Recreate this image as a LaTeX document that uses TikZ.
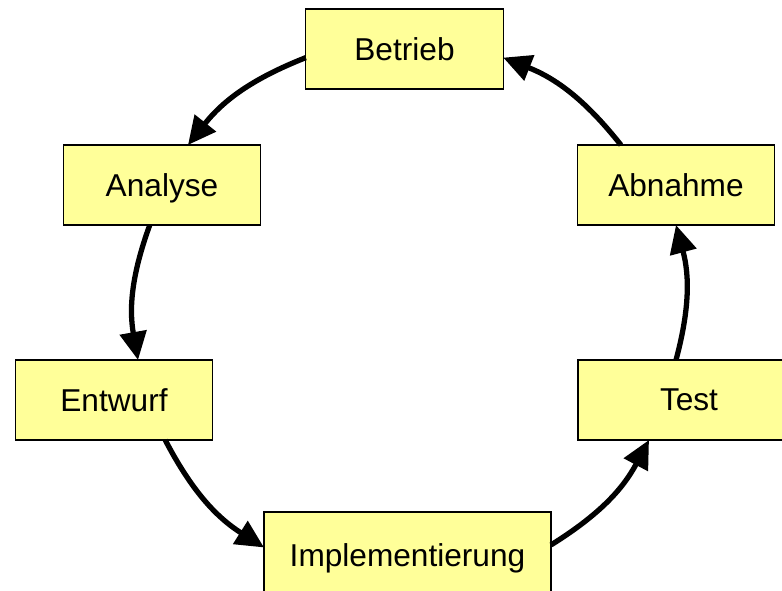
\documentclass[tikz,border=0pt]{standalone}
\usepackage{fontspec}
\setmainfont{Liberation Sans}
\usepackage{tikz}
\usetikzlibrary{arrows.meta,positioning,calc}
\usepackage{xcolor}
\definecolor{phasefill}{HTML}{FFFF99}

\begin{document}
\begin{tikzpicture}[x=0.02cm, y=0.02cm,
  phase/.style={draw, line width=0.75pt, fill=phasefill, outer sep=0pt,
    minimum width=3.95cm, minimum height=1.6cm, text depth=0pt,
    font=\fontsize{18}{22}\selectfont},
  flow/.style={line width=3pt, -{Triangle[length=16pt, width=15pt]}, bend right=15}]
  \clip (0,0) rectangle (782,591);

  \node[phase] (betrieb) at (404.5,542) {Betrieb};
  \node[phase] (analyse) at (162,406) {Analyse};
  \node[phase] (abnahme) at (676,406) {Abnahme};
  \node[phase] (entwurf) at (114,191) {Entwurf};
  \node[phase, minimum width=4.44cm] (test) at (689,191) {Test};
  \node[phase, minimum width=5.74cm, minimum height=1.72cm] (impl) at (407.5,36) {Implementierung};

  \draw[flow] (betrieb.185) to (analyse.57);
  \draw[flow] (analyse.253) to (entwurf.59);
  \draw[flow] (entwurf.322) to (impl.177);
  \draw[flow] (impl.4) to (test.225);
  \draw[flow] (test.108) to (abnahme.270);
  \draw[flow] (abnahme.144) to (betrieb.355);
\end{tikzpicture}
\end{document}
